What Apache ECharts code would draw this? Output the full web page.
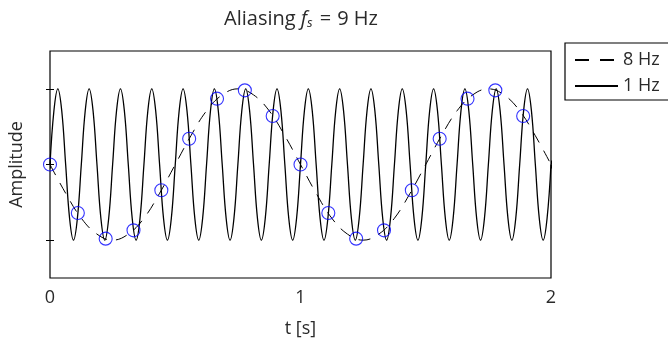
<!DOCTYPE html>
<html>
<head>
<meta charset="utf-8">
<script src="https://cdn.jsdelivr.net/npm/echarts@6/dist/echarts.min.js"></script>
<style>html,body{margin:0;padding:0;background:#fff}#c{width:668px;height:345px}</style>
</head>
<body>
<div id="c"></div>
<script>
// ---- data ----
const xTicks = [0, 1, 2];
const yTicks = [-1, 0, 1];
const legendNames = ['8 Hz', '1 Hz'];
// fast (solid) curve: samples every 1/64 s
const solidStep = 1 / 64;
const solidValues = [
  0, .71, 1, .71, 0, -.71, -1, -.71, 0, .71, 1, .71, 0, -.71, -1, -.71,
  0, .71, 1, .71, 0, -.71, -1, -.71, 0, .71, 1, .71, 0, -.71, -1, -.71,
  0, .71, 1, .71, 0, -.71, -1, -.71, 0, .71, 1, .71, 0, -.71, -1, -.71,
  0, .71, 1, .71, 0, -.71, -1, -.71, 0, .71, 1, .71, 0, -.71, -1, -.71,
  0, .71, 1, .71, 0, -.71, -1, -.71, 0, .71, 1, .71, 0, -.71, -1, -.71,
  0, .71, 1, .71, 0, -.71, -1, -.71, 0, .71, 1, .71, 0, -.71, -1, -.71,
  0, .71, 1, .71, 0, -.71, -1, -.71, 0, .71, 1, .71, 0, -.71, -1, -.71,
  0, .71, 1, .71, 0, -.71, -1, -.71, 0, .71, 1, .71, 0, -.71, -1, -.71,
  0
];
// slow (dashed) curve: samples every 1/16 s
const dashedStep = 1 / 16;
const dashedValues = [
  0, -.38, -.71, -.92, -1, -.92, -.71, -.38, 0, .38, .71, .92, 1, .92, .71, .38,
  0, -.38, -.71, -.92, -1, -.92, -.71, -.38, 0, .38, .71, .92, 1, .92, .71, .38,
  0
];
// sample points (circles), every 1/9 s
const sampleStep = 1 / 9;
const sampleValues = [0, -.64, -.98, -.87, -.34, .34, .87, .98, .64,
                      0, -.64, -.98, -.87, -.34, .34, .87, .98, .64];

const pairs = (vals, step) => vals.map((v, i) => [i * step, v]);

const chart = echarts.init(document.getElementById('c'), null, {renderer: 'canvas'});
const FONT = 'Open Sans';
const TXT = '#2a2a2a';
chart.setOption({
  animation: false,
  backgroundColor: '#fff',
  title: {
    text: '{a|Aliasing }{i|f}{s|s}{e|=}{a|9 Hz}',
    left: 296, top: 3, textAlign: 'center',
    textStyle: {
      fontWeight: 'normal',
      rich: {
        a: {fontFamily: FONT, fontSize: 20, color: TXT, fontWeight: 'normal'},
        e: {fontFamily: FONT, fontSize: 20, color: TXT, fontWeight: 'normal', padding: [0, 6, 0, 7]},
        i: {fontFamily: FONT, fontSize: 20, fontStyle: 'italic', color: TXT, fontWeight: 'normal'},
        s: {fontFamily: FONT, fontSize: 13, fontStyle: 'italic', color: TXT, fontWeight: 'normal', verticalAlign: 'bottom', padding: [9, 0, 0, 0]}
      }
    }
  },
  legend: {
    data: [{name: legendNames[0], lineStyle: {type: [14, 11]}}, {name: legendNames[1]}],
    orient: 'vertical',
    left: 565, top: 43,
    padding: [8, 40, 5, 9],
    itemWidth: 43, itemHeight: 14, itemGap: 8,
    borderColor: '#000', borderWidth: 1.2,
    itemStyle: {opacity: 0},
    textStyle: {fontFamily: FONT, fontSize: 18, color: TXT}
  },
  grid: {left: 48, right: 117, top: 51, bottom: 67, show: true, borderColor: '#000', borderWidth: 1.2},
  xAxis: [{
    type: 'value', min: 0, max: 2, interval: 1,
    name: 't [s]', nameLocation: 'middle', nameGap: 42,
    nameTextStyle: {fontFamily: FONT, fontSize: 18, color: TXT},
    axisLine: {show: false},
    axisTick: {show: true, inside: true, length: 4, lineStyle: {color: '#000'}},
    axisLabel: {fontFamily: FONT, fontSize: 18, color: TXT, margin: 11},
    splitLine: {show: false}
  }, {
    type: 'value', min: 0, max: 2, interval: 1, position: 'top',
    axisLine: {show: false},
    axisTick: {show: true, inside: true, length: 4, lineStyle: {color: '#000'}},
    axisLabel: {show: false}, splitLine: {show: false}
  }],
  yAxis: [{
    type: 'value', min: -1.5, max: 1.5,
    name: 'Amplitude', nameLocation: 'middle', nameGap: 24, nameRotate: 90,
    nameTextStyle: {fontFamily: FONT, fontSize: 18, color: TXT},
    axisLine: {show: false},
    axisTick: {show: true, inside: true, length: 4, customValues: yTicks, lineStyle: {color: '#000'}},
    axisLabel: {show: false, customValues: yTicks},
    splitLine: {show: false}
  }, {
    type: 'value', min: -1.5, max: 1.5, position: 'right',
    axisLine: {show: false},
    axisTick: {show: true, inside: true, length: 4, customValues: yTicks, lineStyle: {color: '#000'}},
    axisLabel: {show: false, customValues: yTicks},
    splitLine: {show: false}
  }],
  series: [{
    name: legendNames[0], type: 'line', symbol: 'none', smooth: 0.4,
    data: pairs(dashedValues, dashedStep),
    lineStyle: {color: '#000', width: 1, type: [12, 9]},
    itemStyle: {color: '#000'}, z: 3
  }, {
    name: legendNames[1], type: 'line', symbol: 'none', smooth: 0.4,
    data: pairs(solidValues, solidStep),
    lineStyle: {color: '#000', width: 1.3},
    itemStyle: {color: '#000'}, z: 2
  }, {
    name: 'samples', type: 'scatter', symbol: 'circle', symbolSize: 13,
    data: pairs(sampleValues, sampleStep),
    itemStyle: {color: 'rgba(0,0,0,0)', borderColor: '#0000ff', borderWidth: 1.1},
    z: 4
  }]
});
</script>
</body>
</html>
